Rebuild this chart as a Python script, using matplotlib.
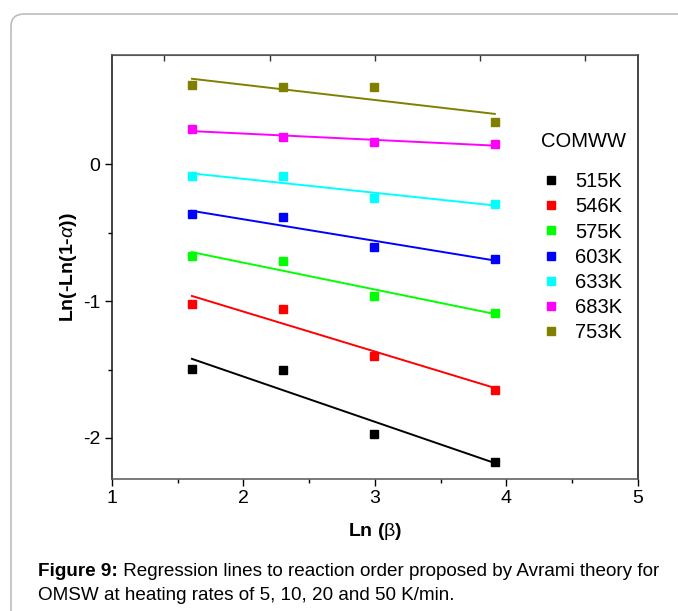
import numpy as np
import matplotlib
matplotlib.use('Agg')
import matplotlib.pyplot as plt
from matplotlib.patches import FancyBboxPatch
from matplotlib.lines import Line2D

plt.rcParams['font.family'] = ['Liberation Sans', 'DejaVu Sans']
plt.rcParams['mathtext.fontset'] = 'custom'
plt.rcParams['mathtext.rm'] = 'Liberation Sans'
plt.rcParams['mathtext.it'] = 'Liberation Sans:italic'
plt.rcParams['mathtext.bf'] = 'Liberation Sans:bold'

# ln of heating rates 5, 10, 20, 50 K/min
ln_beta = np.log([5, 10, 20, 50])

temps = ['515K', '546K', '575K', '603K', '633K', '683K', '753K']
colors = ['#000000', '#ff0000', '#00ff00', '#0000ff', '#00ffff', '#ff00ff', '#808000']

y515 = [-1.492, -1.500, -1.968, -2.176]
y546 = [-1.022, -1.059, -1.400, -1.646]
y575 = [-0.671, -0.707, -0.963, -1.085]
y603 = [-0.366, -0.383, -0.607, -0.693]
y633 = [-0.086, -0.086, -0.244, -0.293]
y683 = [0.256, 0.202, 0.165, 0.149]
y753 = [0.580, 0.563, 0.563, 0.310]
series = [y515, y546, y575, y603, y633, y683, y753]

fig = plt.figure(figsize=(6.78, 6.11), dpi=100)

# rounded frame around the figure
frame = FancyBboxPatch((11 / 678, -0.05), 1.2, 1 - 14 / 611 + 0.05,
                       boxstyle='round,pad=0,rounding_size=0.02',
                       transform=fig.transFigure, facecolor='none',
                       edgecolor='#bdbdbd', linewidth=1.2, zorder=0)
fig.patches.append(frame)

ax = fig.add_axes([0.1648, 0.216, 0.7762, 0.694])

handles = []
for ys, c, t in zip(series, colors, temps):
    ax.plot(ln_beta, ys, 's', color=c, markersize=6.3, zorder=3)
    k, b = np.polyfit(ln_beta, ys, 1)
    ax.plot(ln_beta, k * ln_beta + b, '-', color=c, linewidth=1.4, zorder=2)
    handles.append(Line2D([], [], marker='s', color=c, linestyle='none', markersize=6))

ax.set_xlim(1, 5)
ax.set_ylim(-2.30, 0.80)
ax.set_xticks([1, 2, 3, 4, 5])
ax.set_xticks([1.5, 2.5, 3.5, 4.5], minor=True)
ax.set_yticks([-2, -1, 0])
ax.set_yticklabels(['-2', '-1', '0'])
ax.set_yticks([-1.5, -0.5], minor=True)
ax.tick_params(axis='both', which='major', direction='out', length=5, width=1,
               labelsize=14, pad=3)
ax.tick_params(axis='both', which='minor', direction='out', length=3, width=1)
ax.tick_params(top=False, right=False)

for s in ['top', 'bottom']:
    ax.spines[s].set_color('#555555')
for s in ['left', 'right']:
    ax.spines[s].set_color('#111111')
for s in ax.spines.values():
    s.set_linewidth(1.1)

top = ax.secondary_xaxis('top')
top.set_xticks([1.4, 2.2, 3.0, 3.8, 4.6])
top.set_xticklabels([])
top.tick_params(direction='in', length=4, width=1, color='#333333')
top.spines['top'].set_color('#555555')

ax.set_xlabel(r'Ln ($\mathrm{\beta}$)', fontsize=14, fontweight='bold', labelpad=10)
ax.set_ylabel(r'Ln(-Ln(1-$\alpha$))', fontsize=14, fontweight='bold', labelpad=3)

ax.text(0.978, 0.795, 'COMWW', transform=ax.transAxes, fontsize=14.5, ha='right', va='center')
ax.legend(handles, temps, loc='upper right', bbox_to_anchor=(0.985, 0.742),
          frameon=False, fontsize=14.5, handlelength=0.8, handletextpad=0.8,
          labelspacing=0.3, borderaxespad=0)

# caption: bold label followed by regular text
fig.canvas.draw()
renderer = fig.canvas.get_renderer()
cap_x = 38 / 678
cap_y1 = 1 - 572 / 611
lab = fig.text(cap_x, cap_y1, 'Figure 9:', fontsize=13.6, fontweight='bold',
               ha='left', va='center')
w = lab.get_window_extent(renderer).width / fig.bbox.width
fig.text(cap_x + w, cap_y1,
         ' Regression lines to reaction order proposed by Avrami theory for',
         fontsize=13.6, ha='left', va='center')
fig.text(cap_x, 1 - 595 / 611,
         'OMSW at heating rates of 5, 10, 20 and 50 K/min.',
         fontsize=13.6, ha='left', va='center')

fig.savefig('out.png', dpi=100)
